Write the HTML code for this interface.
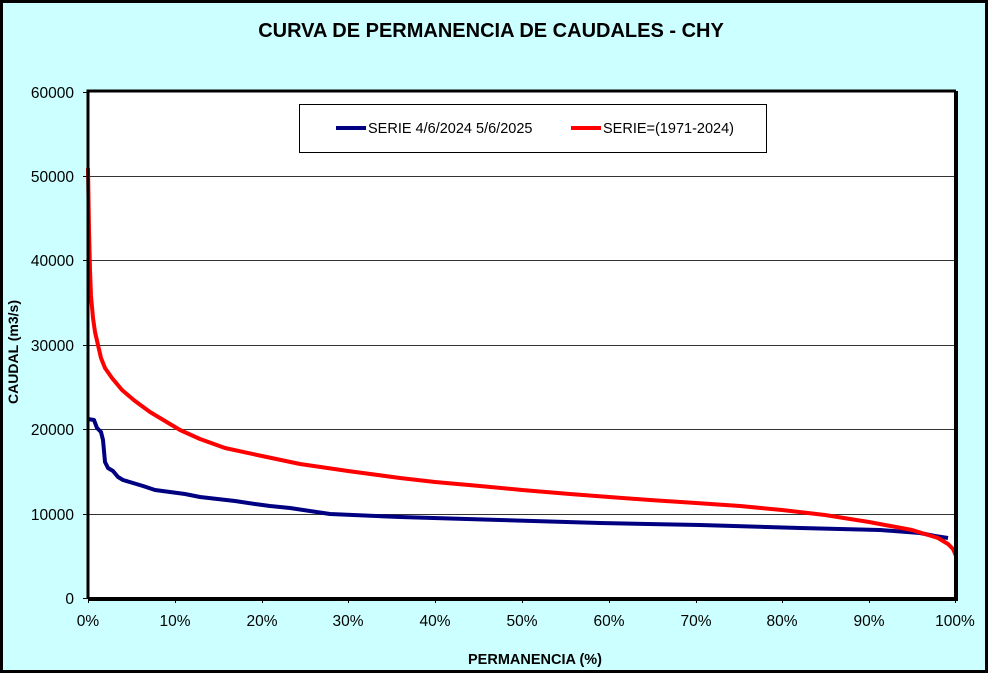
<!DOCTYPE html>
<html><head><style>
body{margin:0;background:#fff}
svg{display:block;font-family:"Liberation Sans",Arial,sans-serif}
</style></head><body>
<svg width="989" height="674" viewBox="0 0 989 674" xmlns="http://www.w3.org/2000/svg">
<rect x="1.5" y="1.5" width="985" height="670" fill="#CCFFFF" stroke="#000" stroke-width="3"/>
<text x="491" y="37" font-size="20" font-weight="bold" text-anchor="middle">CURVA DE PERMANENCIA DE CAUDALES - CHY</text>
<rect x="88" y="92" width="868" height="506" fill="#fff"/>
<g stroke="#333" stroke-width="1">
<line x1="88" y1="176.5" x2="956" y2="176.5"/>
<line x1="88" y1="260.5" x2="956" y2="260.5"/>
<line x1="88" y1="345.5" x2="956" y2="345.5"/>
<line x1="88" y1="429.5" x2="956" y2="429.5"/>
<line x1="88" y1="514.5" x2="956" y2="514.5"/>
</g>
<g stroke="#000" stroke-width="1">
<line x1="83" y1="92.5" x2="88" y2="92.5"/><line x1="83" y1="176.5" x2="88" y2="176.5"/><line x1="83" y1="260.5" x2="88" y2="260.5"/><line x1="83" y1="345.5" x2="88" y2="345.5"/><line x1="83" y1="429.5" x2="88" y2="429.5"/><line x1="83" y1="514.5" x2="88" y2="514.5"/><line x1="83" y1="598.5" x2="88" y2="598.5"/>
<line x1="88.5" y1="598" x2="88.5" y2="603"/><line x1="175.5" y1="598" x2="175.5" y2="603"/><line x1="262.5" y1="598" x2="262.5" y2="603"/><line x1="348.5" y1="598" x2="348.5" y2="603"/><line x1="435.5" y1="598" x2="435.5" y2="603"/><line x1="522.5" y1="598" x2="522.5" y2="603"/><line x1="609.5" y1="598" x2="609.5" y2="603"/><line x1="696.5" y1="598" x2="696.5" y2="603"/><line x1="782.5" y1="598" x2="782.5" y2="603"/><line x1="869.5" y1="598" x2="869.5" y2="603"/><line x1="955.5" y1="598" x2="955.5" y2="603"/>
</g>
<g font-size="15.5" text-anchor="end">
<text x="74" y="98">60000</text><text x="74" y="182">50000</text><text x="74" y="266">40000</text><text x="74" y="351">30000</text><text x="74" y="435">20000</text><text x="74" y="520">10000</text><text x="74" y="604">0</text>
</g>
<g font-size="15.5" text-anchor="middle">
<text x="88" y="626">0%</text><text x="175" y="626">10%</text><text x="262" y="626">20%</text><text x="348" y="626">30%</text><text x="435" y="626">40%</text><text x="522" y="626">50%</text><text x="609" y="626">60%</text><text x="696" y="626">70%</text><text x="782" y="626">80%</text><text x="869" y="626">90%</text><text x="955" y="626">100%</text>
</g>
<text x="535" y="664" font-size="14.5" font-weight="bold" text-anchor="middle">PERMANENCIA (%)</text>
<text transform="translate(18,352) rotate(-90)" font-size="14" font-weight="bold" text-anchor="middle">CAUDAL (m3/s)</text>
<polyline fill="none" stroke="#000080" stroke-width="4" stroke-linejoin="round" points="88,419 94,420 97,428 101,432 103,440 105,462 108,468 113,471 118,477 123,480 133,483 143,486 155,490 170,492 185,494 200,497 235,501 255,504 270,506 290,508 330,514 400,517 500,520 600,523 700,525 800,528 880,530 920,533 935,536 948,538"/>
<polyline fill="none" stroke="#FF0000" stroke-width="4" stroke-linejoin="round" points="88,168 89,230 90,270 91,296 93,318 95,332 98,345 101,358 105,368 112,378 122,390 135,401 150,412 165,421 180,430 200,439 225,448 262,456 300,464 348,471 400,478 435,482 480,486 522,490 570,494 609,497 650,500 696,503 740,506 782,510 825,515 869,522 912,530 938,538 948,544 953,549 956,556"/>
<path d="M88 598 V91 H956" fill="none" stroke="#000" stroke-width="3"/>
<path d="M956 91 V599 H88" fill="none" stroke="#000" stroke-width="4"/>
<rect x="299.5" y="104.5" width="467" height="48" fill="#fff" stroke="#000" stroke-width="1"/>
<line x1="336" y1="128" x2="366" y2="128" stroke="#000080" stroke-width="4"/>
<text x="368" y="133" font-size="14.5">SERIE 4/6/2024 5/6/2025</text>
<line x1="571" y1="128" x2="601" y2="128" stroke="#FF0000" stroke-width="4"/>
<text x="603" y="133" font-size="14.5">SERIE=(1971-2024)</text>
</svg>
</body></html>
